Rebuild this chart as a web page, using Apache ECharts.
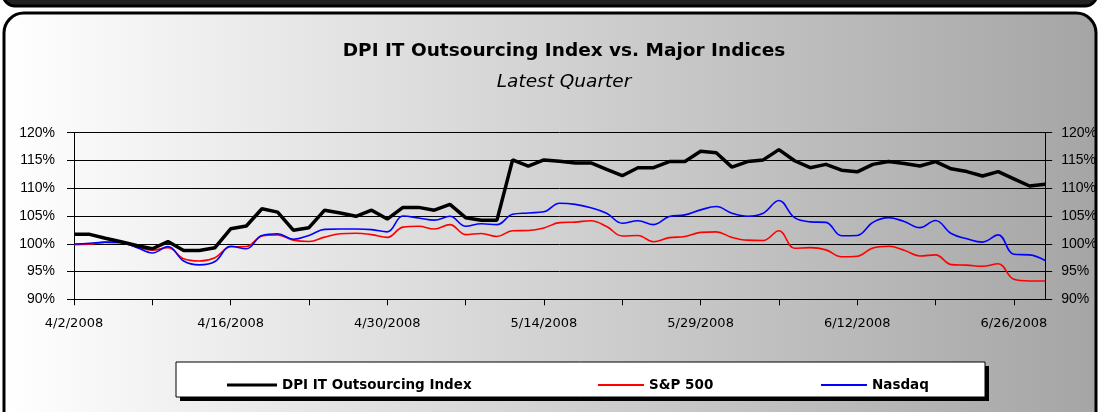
<!DOCTYPE html>
<html><head><meta charset="utf-8">
<script src="https://cdn.jsdelivr.net/npm/echarts@6/dist/echarts.min.js"></script>
<style>html,body{margin:0;padding:0;background:#fff}#c{width:1100px;height:412px}</style>
</head><body><div id="c"></div>
<script>
const dates = ['4/2/2008','4/3/2008','4/4/2008','4/7/2008','4/8/2008','4/9/2008','4/10/2008','4/11/2008','4/14/2008','4/15/2008',
'4/16/2008','4/17/2008','4/18/2008','4/21/2008','4/22/2008','4/23/2008','4/24/2008','4/25/2008','4/28/2008','4/29/2008',
'4/30/2008','5/1/2008','5/2/2008','5/5/2008','5/6/2008','5/7/2008','5/8/2008','5/9/2008','5/12/2008','5/13/2008',
'5/14/2008','5/15/2008','5/16/2008','5/19/2008','5/20/2008','5/21/2008','5/22/2008','5/23/2008','5/27/2008','5/28/2008',
'5/29/2008','5/30/2008','6/2/2008','6/3/2008','6/4/2008','6/5/2008','6/6/2008','6/9/2008','6/10/2008','6/11/2008',
'6/12/2008','6/13/2008','6/16/2008','6/17/2008','6/18/2008','6/19/2008','6/20/2008','6/23/2008','6/24/2008','6/25/2008',
'6/26/2008','6/27/2008','6/30/2008'];

const dpiIndex = [101.7,101.7,101.0,100.35,99.7,99.1,100.4,98.8,98.8,99.3,
102.7,103.2,106.3,105.7,102.45,102.9,106.05,105.55,104.95,106.05,
104.45,106.55,106.55,106.05,107.1,104.7,104.25,104.25,115.1,114.0,
115.1,114.85,114.55,114.55,113.4,112.25,113.7,113.7,114.8,114.8,
116.65,116.4,113.8,114.8,115.1,116.95,114.95,113.7,114.3,113.25,
112.95,114.3,114.8,114.45,114.0,114.8,113.5,113.0,112.2,113.0,
111.7,110.4,110.7];

const sp500 = [99.85,99.9,100.25,100.2,99.4,98.85,99.3,97.3,96.9,97.5,
99.45,99.5,101.4,101.6,100.65,100.4,101.2,101.8,101.9,101.65,
101.15,103.0,103.15,102.65,103.45,101.65,101.85,101.3,102.35,102.4,
102.85,103.8,103.9,104.15,103.1,101.4,101.5,100.35,101.1,101.3,
102.05,102.15,101.15,100.65,100.6,102.35,99.2,99.3,98.9,97.65,
97.75,99.25,99.55,98.85,97.8,98.0,96.25,96.15,95.95,96.4,
93.6,93.3,93.3];

const nasdaq = [99.95,100.1,100.3,100.25,99.35,98.35,99.5,96.9,96.2,96.8,
99.55,99.1,101.5,101.8,100.8,101.5,102.6,102.65,102.65,102.55,
102.15,105.0,104.65,104.25,104.95,103.15,103.6,103.45,105.3,105.55,
105.75,107.3,107.1,106.5,105.5,103.7,104.15,103.45,104.9,105.2,
106.1,106.7,105.5,104.95,105.5,107.8,104.7,103.95,103.85,101.45,
101.5,103.85,104.7,104.0,102.9,104.2,101.85,100.9,100.3,101.6,
98.1,98.0,97.0];

const seriesNames = ['DPI IT Outsourcing Index','S&P 500','Nasdaq'];
const titleText = 'DPI IT Outsourcing Index vs. Major Indices';
const subtitleText = 'Latest Quarter';

const chart = echarts.init(document.getElementById('c'), null, {renderer:'canvas'});

const yAxisBase = {
  type:'value', min:90, max:120, interval:5,
  axisLine:{show:true, lineStyle:{color:'#000', width:1}},
  axisTick:{show:true, inside:false, length:7, lineStyle:{color:'#000'}},
  axisLabel:{formatter:'{value}%', color:'#000', fontFamily:'Liberation Sans, Arial, sans-serif', fontSize:14},
  splitLine:{show:false}
};

const option = {
  animation:false,
  backgroundColor:'#ffffff',
  graphic:[
    {type:'rect', z:-20, shape:{x:3, y:-40, width:1094, height:46, r:12},
     style:{fill:'#222', stroke:'#000', lineWidth:3}},
    {type:'rect', z:-20, shape:{x:4, y:13, width:1092, height:430, r:20},
     style:{fill:new echarts.graphic.LinearGradient(0,0,1,0,[{offset:0,color:'#ffffff'},{offset:1,color:'#a5a5a5'}]),
            stroke:'#000', lineWidth:3}},
    {type:'rect', z:3, shape:{x:180, y:366, width:809, height:35}, style:{fill:'#000'}},
    {type:'rect', z:3, shape:{x:176, y:362, width:809, height:35}, style:{fill:'#fff', stroke:'#000', lineWidth:1}}
  ],
  title:[
    {text:titleText, left:559, top:37, textAlign:'center',
     textStyle:{fontFamily:'DejaVu Sans, sans-serif', fontWeight:'bold', fontSize:18.5, color:'#000'}},
    {text:subtitleText, left:559, top:68, textAlign:'center',
     textStyle:{fontFamily:'DejaVu Sans, sans-serif', fontStyle:'italic', fontWeight:'normal', fontSize:18.5, color:'#000'}}
  ],
  legend:[
    {data:[seriesNames[0]], left:222, top:373, icon:'rect', itemWidth:50, itemHeight:3, itemGap:0,
     textStyle:{fontFamily:'DejaVu Sans, sans-serif', fontWeight:'bold', fontSize:13.5, color:'#000'}},
    {data:[seriesNames[1]], left:593, top:373, icon:'rect', itemWidth:46, itemHeight:2, itemGap:0,
     textStyle:{fontFamily:'DejaVu Sans, sans-serif', fontWeight:'bold', fontSize:13.5, color:'#000'}},
    {data:[seriesNames[2]], left:816, top:373, icon:'rect', itemWidth:46, itemHeight:2, itemGap:0,
     textStyle:{fontFamily:'DejaVu Sans, sans-serif', fontWeight:'bold', fontSize:13.5, color:'#000'}}
  ],
  grid:{left:74, right:53, top:132.7, height:166.6, containLabel:false},
  xAxis:{
    type:'category', data:dates, boundaryGap:false,
    axisLine:{show:true, lineStyle:{color:'#000', width:1}},
    axisTick:{show:true, length:6, interval:(i)=> i % 5 === 0, lineStyle:{color:'#000'}},
    axisLabel:{interval:(i)=> i % 10 === 0, margin:18, color:'#000',
      fontFamily:'DejaVu Sans, sans-serif', fontSize:13},
    splitLine:{show:false}
  },
  yAxis:[
    Object.assign({}, yAxisBase, {position:'left', axisLabel:Object.assign({}, yAxisBase.axisLabel, {margin:19}),
      splitLine:{show:true, lineStyle:{color:'#000', width:1}}}),
    Object.assign({}, yAxisBase, {position:'right', axisLabel:Object.assign({}, yAxisBase.axisLabel, {margin:16})})
  ],
  series:[
    {name:seriesNames[0], type:'line', data:dpiIndex, showSymbol:false, symbol:'none', z:5,
     color:'#000000', lineStyle:{color:'#000000', width:3.5}},
    {name:seriesNames[1], type:'line', data:sp500, showSymbol:false, symbol:'none', smooth:0.4, z:3,
     color:'#ff0000', lineStyle:{color:'#ff0000', width:1.6}},
    {name:seriesNames[2], type:'line', data:nasdaq, showSymbol:false, symbol:'none', smooth:0.4, z:4,
     color:'#0000ff', lineStyle:{color:'#0000ff', width:1.6}}
  ]
};
chart.setOption(option);
</script></body></html>
